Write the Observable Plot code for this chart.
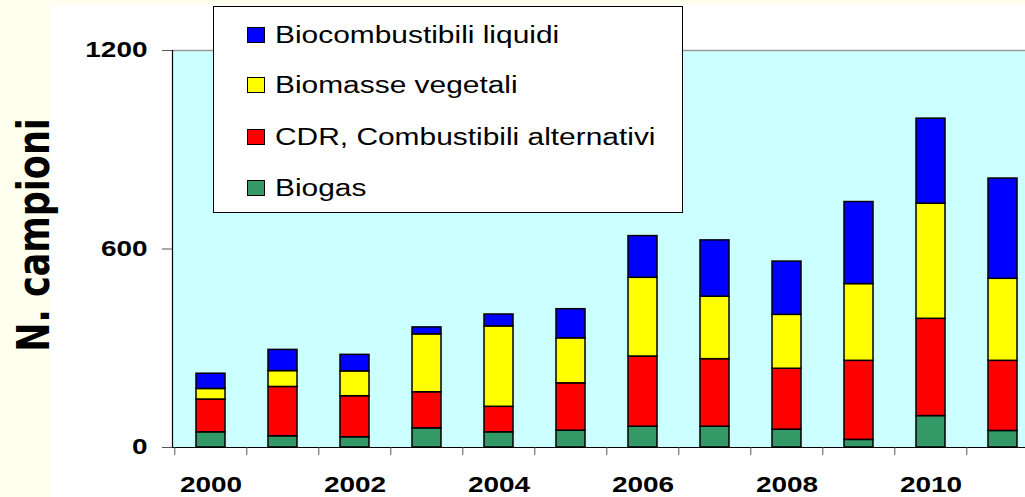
<!DOCTYPE html>
<html>
<head>
<meta charset="utf-8">
<script src="https://cdn.jsdelivr.net/npm/d3@7"></script>
<script src="https://cdn.jsdelivr.net/npm/@observablehq/plot@0.6"></script>
<style>
  html, body { margin: 0; padding: 0; }
  body { width: 1025px; height: 497px; overflow: hidden; background: #FFFFF0; position: relative; font-family: "Liberation Sans", Arial, sans-serif; }
  #paper { position: absolute; left: 50px; top: 5px; right: 0; bottom: 0; background: #ffffff; }
  #chart { position: absolute; left: 0; top: 0; }
  #ylabel { position: absolute; left: 35px; top: 235px; white-space: nowrap;
            font-family: "DejaVu Sans", sans-serif; font-weight: bold; font-size: 35px; line-height: 1;
            transform: translate(-50%, -50%) rotate(-90deg) scaleY(1.25); }
  #legend { position: absolute; left: 213px; top: 6px; width: 470px; height: 207px; box-sizing: border-box;
            border: 1.5px solid #000; background: #fff; }
  .row { position: absolute; left: 33px; height: 24px; display: flex; align-items: center; }
  .sw { width: 16px; height: 14px; border: 1px solid #000; margin-right: 10px; flex: none; }
  .lt { font-size: 23px; transform: scaleX(1.3); transform-origin: left center; white-space: nowrap; }
</style>
</head>
<body>
<div id="paper"></div>
<div id="chart"></div>
<div id="ylabel">N. campioni</div>
<div id="legend"></div>
<script>
// ---- data ----
const years = [2000, 2001, 2002, 2003, 2004, 2005, 2006, 2007, 2008, 2009, 2010, 2011];
const biogas   = [46, 34, 31, 58, 46, 51, 63, 63, 54, 23, 95, 50];
const cdr      = [99, 149, 124, 109, 77, 143, 212, 204, 184, 239, 294, 212];
const biomasse = [32, 48, 75, 175, 243, 136, 238, 189, 163, 232, 348, 248];
const liquidi  = [46, 64, 50, 21, 36, 88, 126, 170, 161, 248, 257, 303];
const seriesNames = ["Biocombustibili liquidi", "Biomasse vegetali", "CDR, Combustibili alternativi", "Biogas"];
const seriesColors = ["#0000FF", "#FFFF00", "#FF0000", "#339966"];
const yTicks = [0, 600, 1200];
const xTickLabels = [2000, 2002, 2004, 2006, 2008, 2010];

// stacking order bottom -> top
const stackOrder = [
  [seriesNames[3], biogas],
  [seriesNames[2], cdr],
  [seriesNames[1], biomasse],
  [seriesNames[0], liquidi]
];
const data = [];
years.forEach((yr, i) => {
  for (const [name, arr] of stackOrder) data.push({year: yr, series: name, value: arr[i]});
});

const W = 1045, H = 497, ML = 172, MR = 4, MT = 50, MB = 50;
const plotH = H - MT - MB;
const step = (W - ML - MR) / years.length;

const chart = Plot.plot({
  width: W, height: H,
  marginLeft: ML, marginRight: MR, marginTop: MT, marginBottom: MB,
  style: {background: "transparent", maxWidth: "none", overflow: "visible", fontFamily: "Liberation Sans, Arial, sans-serif", color: "black"},
  x: {type: "band", domain: years, paddingInner: 0.6, paddingOuter: 0.3, axis: null, label: null},
  y: {domain: [0, 1200], axis: null, label: null},
  color: {domain: seriesNames, range: seriesColors},
  marks: [
    Plot.frame({fill: "#CCFFFF", stroke: null}),
    Plot.frame({anchor: "top", stroke: "#9a9a9a", strokeWidth: 1.5}),
    Plot.barY(data, {x: "year", y: "value", fill: "series", stroke: "black", strokeWidth: 1.5}),
    Plot.frame({anchor: "left", stroke: "black", strokeWidth: 1.2}),
    Plot.ruleY([0], {stroke: "black", strokeWidth: 1.2}),
    Plot.axisY({ticks: yTicks, label: null, tickSize: 10, tickPadding: 15, fontSize: 21.5, fontWeight: "bold", stroke: "#555", tickFormat: d => String(d)}),
    Plot.tickX(years, {x: d => d, dx: -step / 2, insetTop: plotH, insetBottom: -8, stroke: "#555"}),
    Plot.axisX({ticks: xTickLabels, label: null, tickSize: 0, tickPadding: 29, fontSize: 21.5, fontWeight: "bold", tickFormat: d => String(d)})
  ]
});
document.getElementById("chart").append(chart);

// horizontal stretch of the original picture's text
chart.querySelectorAll("text").forEach(t => {
  const len = t.getComputedTextLength();
  if (len > 0) {
    t.setAttribute("textLength", len * 1.3);
    t.setAttribute("lengthAdjust", "spacingAndGlyphs");
  }
});

// legend
const legend = document.getElementById("legend");
const rowCenters = [28, 78, 130, 181];
seriesNames.forEach((name, i) => {
  const row = document.createElement("div");
  row.className = "row";
  row.style.top = (rowCenters[i] - 12) + "px";
  const sw = document.createElement("div");
  sw.className = "sw";
  sw.style.background = seriesColors[i];
  const lt = document.createElement("div");
  lt.className = "lt";
  lt.textContent = name;
  row.append(sw, lt);
  legend.append(row);
});
</script>
</body>
</html>
